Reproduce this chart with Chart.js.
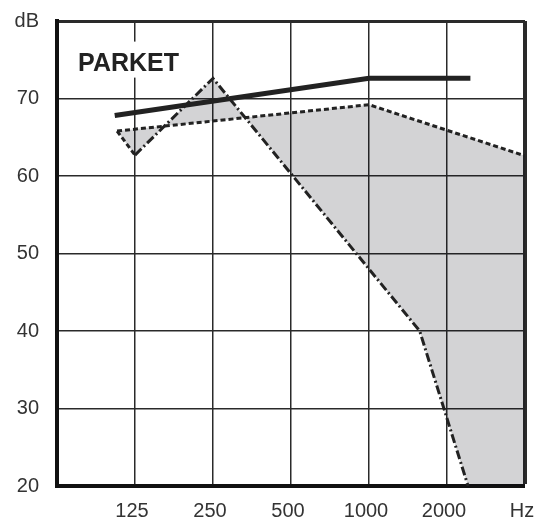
<!DOCTYPE html>
<html>
<head>
<meta charset="utf-8">
<script src="https://cdn.jsdelivr.net/npm/chart.js@4"></script>
<style>
  html, body { margin: 0; padding: 0; background: #ffffff; }
  #c { display: block; }
</style>
</head>
<body>
<canvas id="c" width="534" height="525"></canvas>
<script>
// Frequency axis: octave positions (0 = 62.5 Hz ... 6 = 4000 Hz)
const xTickLabels = ['', '125', '250', '500', '1000', '2000', 'Hz'];
const yTickValues = [20, 30, 40, 50, 60, 70, 80];
const yTopLabel = 'dB';
const chartTitle = 'PARKET';

// Solid thick line
const solidX = [0.74, 4, 5.3];
const solidY = [67.8, 72.6, 72.6];

// Short-dashed line
const dashedX = [0.77, 4, 6];
const dashedY = [65.8, 69.2, 62.6];

// Short-dashed connector at left of shaded area
const connectorX = [0.77, 1];
const connectorY = [65.8, 62.7];

// Dash-dot line
const dashDotX = [1, 2, 4.65, 5.27];
const dashDotY = [62.7, 72.6, 40, 20];

// Shaded area: along dashed line, down right edge, back along dash-dot line
const shadeX = [...dashedX, 6, ...dashDotX.slice().reverse()];
const shadeY = [...dashedY, 20, ...dashDotY.slice().reverse()];

const pts = (xs, ys) => xs.map((x, i) => ({ x: x, y: ys[i] }));

const FONT = '"Liberation Sans", Arial, Helvetica, sans-serif';
const INK = '#222222';

const titlePlugin = {
  id: 'titleText',
  beforeDatasetsDraw(chart) {
    const { ctx, scales } = chart;
    ctx.save();
    ctx.font = 'bold 25px ' + FONT;
    const x0 = scales.x.getPixelForValue(0.27);
    const yb = scales.y.getPixelForValue(73.6);
    const w = ctx.measureText(chartTitle).width;
    ctx.fillStyle = '#ffffff';
    ctx.fillRect(x0 - 2, yb - 29, w + 4, 36);
    ctx.fillStyle = INK;
    ctx.textAlign = 'left';
    ctx.textBaseline = 'alphabetic';
    ctx.fillText(chartTitle, x0, yb);
    ctx.restore();
  }
};

new Chart(document.getElementById('c'), {
  type: 'line',
  data: {
    datasets: [
      {
        data: pts(solidX, solidY),
        borderColor: INK, borderWidth: 5, pointRadius: 0, fill: false, tension: 0,
        borderCapStyle: 'butt'
      },
      {
        data: pts(dashedX, dashedY),
        borderColor: INK, borderWidth: 3, borderDash: [5, 3], pointRadius: 0, fill: false, tension: 0
      },
      {
        data: pts(connectorX, connectorY),
        borderColor: INK, borderWidth: 3, borderDash: [5, 3], pointRadius: 0, fill: false, tension: 0
      },
      {
        data: pts(dashDotX, dashDotY),
        borderColor: INK, borderWidth: 3, borderDash: [9, 3, 2, 3], pointRadius: 0, fill: false, tension: 0
      },
      {
        data: pts(shadeX, shadeY),
        borderWidth: 0, borderColor: 'rgba(0,0,0,0)', pointRadius: 0, tension: 0,
        fill: 'shape', backgroundColor: 'rgba(10,10,20,0.18)'
      }
    ]
  },
  options: {
    responsive: false,
    animation: false,
    events: [],
    layout: { padding: { top: 21, right: 9, bottom: 0, left: 0 } },
    plugins: { legend: { display: false }, tooltip: { enabled: false }, title: { display: false } },
    scales: {
      x: {
        type: 'linear', min: 0, max: 6,
        afterFit(s) { s.height = 39; s.paddingLeft = 0; s.paddingRight = 0; },
        afterBuildTicks(s) { s.ticks = xTickLabels.map((_, i) => ({ value: i })); },
        ticks: {
          callback: (v) => xTickLabels[v] ?? '',
          font: { family: FONT, size: 20 }, color: '#333', padding: 13,
          labelOffset: -3, maxRotation: 0, autoSkip: false
        },
        grid: {
          drawTicks: false, color: '#2a2a2a',
          lineWidth: (c) => (c.tick && c.tick.value === 6 ? 4 : (c.tick && c.tick.value === 0 ? 0 : 1.5))
        },
        border: { display: true, color: '#111', width: 4 }
      },
      y: {
        type: 'linear', min: 20, max: 80,
        afterFit(s) { s.width = 57; s.paddingTop = 0; s.paddingBottom = 0; },
        afterBuildTicks(s) { s.ticks = yTickValues.map((v) => ({ value: v })); },
        ticks: {
          callback: (v) => (v === 80 ? yTopLabel : String(v)),
          font: { family: FONT, size: 20 }, color: '#333', padding: 18, autoSkip: false
        },
        grid: {
          drawTicks: false, color: '#2a2a2a',
          lineWidth: (c) => (c.tick && c.tick.value === 80 ? 3 : (c.tick && c.tick.value === 20 ? 0 : 1.5))
        },
        border: { display: true, color: '#111', width: 4 }
      }
    }
  },
  plugins: [titlePlugin]
});
</script>
</body>
</html>
